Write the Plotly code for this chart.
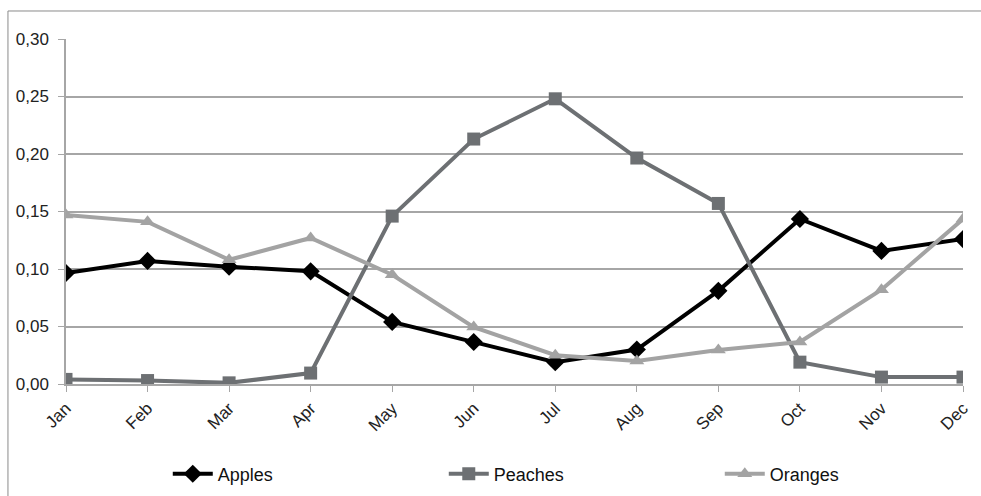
import plotly.graph_objects as go

# Monthly shares per fruit
months = ["Jan", "Feb", "Mar", "Apr", "May", "Jun", "Jul", "Aug", "Sep", "Oct", "Nov", "Dec"]
apples = [0.0965, 0.107, 0.102, 0.098, 0.054, 0.0365, 0.019, 0.030, 0.081, 0.1435, 0.1157, 0.126]
peaches = [0.004, 0.003, 0.001, 0.0095, 0.146, 0.213, 0.248, 0.1965, 0.157, 0.019, 0.006, 0.006]
oranges = [0.147, 0.141, 0.108, 0.127, 0.095, 0.0495, 0.025, 0.020, 0.0296, 0.0365, 0.082, 0.1435]
y_ticks = [0.0, 0.05, 0.10, 0.15, 0.20, 0.25, 0.30]

series = [
    ("Apples", apples, "#000000", "diamond", 14),
    ("Peaches", peaches, "#6d7073", "square", 13),
    ("Oranges", oranges, "#a3a3a3", "triangle-up", 13),
]

fig = go.Figure()
for name, vals, color, symbol, size in series:
    fig.add_trace(go.Scatter(
        x=months, y=vals, name=name, mode="lines+markers",
        line=dict(color=color, width=4),
        marker=dict(symbol=symbol, size=size, color=color),
    ))

fig.update_layout(
    width=981, height=496,
    margin=dict(l=66, r=18, t=39, b=112, autoexpand=False),
    paper_bgcolor="white", plot_bgcolor="white",
    separators=",.",
    font=dict(family="Liberation Sans, Arial, sans-serif", size=17, color="#222222"),
    showlegend=True,
    legend=dict(
        orientation="h", x=0.575, xanchor="center", y=-0.261, yanchor="middle",
        font=dict(size=18, color="#111111"), entrywidth=221, itemwidth=40,
        traceorder="normal",
    ),
)

fig.update_xaxes(
    type="category", range=[0, 11], showgrid=False, automargin=False,
    showline=True, linecolor="#a6a6a6", linewidth=1.5,
    ticks="outside", ticklen=6, tickcolor="#a6a6a6", tickangle=-45,
    tickfont=dict(size=17),
)
fig.update_yaxes(
    range=[0, 0.30], tickvals=y_ticks, tickformat=".2f", automargin=False,
    showgrid=True, gridcolor="#a6a6a6", gridwidth=1.5,
    showline=True, linecolor="#a6a6a6", linewidth=1.5,
    ticks="outside", ticklen=6, tickcolor="#a6a6a6", ticklabelstandoff=6,
    zeroline=False, tickfont=dict(size=17),
)

# Outer frame around the chart
fig.add_shape(
    type="rect", xref="paper", yref="paper",
    x0=-0.0647, x1=1.03, y0=-0.34, y1=1.0812,
    line=dict(color="#8a8a8a", width=1), layer="below",
)

fig.write_html("out.html")
